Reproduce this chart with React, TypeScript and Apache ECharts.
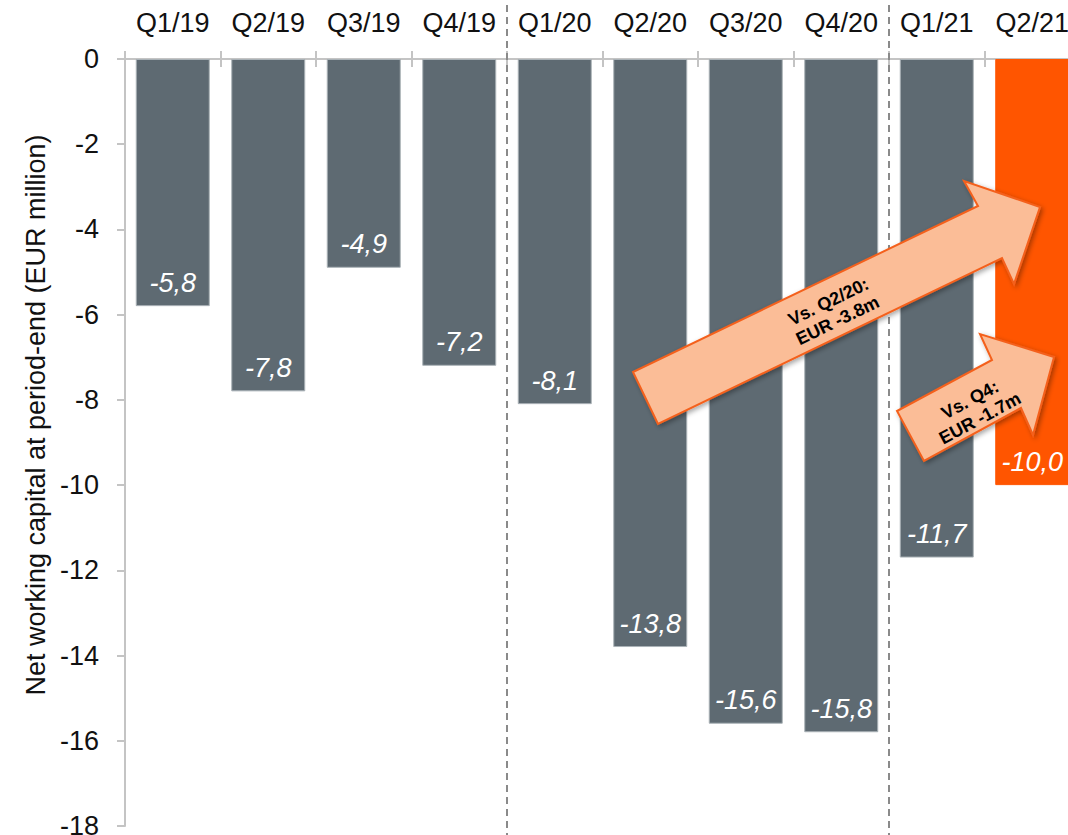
import React, { useEffect, useRef } from "react";
import * as echarts from "echarts";

const categories = ["Q1/19", "Q2/19", "Q3/19", "Q4/19", "Q1/20", "Q2/20", "Q3/20", "Q4/20", "Q1/21", "Q2/21"];
const values = [-5.8, -7.8, -4.9, -7.2, -8.1, -13.8, -15.6, -15.8, -11.7, -10.0];
const highlightIndex = 9;
const yMin = -18;
const yMax = 0;
const yInterval = 2;
const separatorsAfter = [3, 7];
const yAxisTitle = "Net working capital at period-end (EUR million)";
const arrowTexts = ["Vs. Q2/20:\nEUR -3.8m", "Vs. Q4:\nEUR -1.7m"];

const GREY = "#5e6a72";
const ORANGE = "#ff5500";
const ARROW_FILL = "#fbbd97";
const ARROW_STROKE = "#f4611c";
const FONT = "'Liberation Sans', Arial, sans-serif";

export default function App() {
  const ref = useRef<HTMLDivElement>(null);
  useEffect(() => {
    document.body.style.margin = "0";
    const chart = echarts.init(ref.current!, null, { renderer: "svg" });
    const axisLabelStyle = { color: "#111", fontSize: 27, fontFamily: FONT };
    chart.setOption({
      animation: false,
      grid: { left: 125, top: 59, width: 955, height: 767, outerBoundsMode: "none", containLabel: false },
      xAxis: [
        {
          type: "category",
          data: categories,
          position: "top",
          axisLine: { lineStyle: { color: "#c4c4c4", width: 2 } },
          axisTick: { show: true, length: 8, lineStyle: { color: "#c4c4c4", width: 2 } },
          axisLabel: { ...axisLabelStyle, margin: 23, interval: 0, hideOverlap: false },
        },
        {
          type: "category",
          data: categories,
          position: "top",
          axisLine: { show: false },
          axisTick: { show: true, inside: true, length: 8, lineStyle: { color: "#c4c4c4", width: 2 } },
          axisLabel: { show: false },
        },
      ],
      yAxis: {
        type: "value",
        min: yMin,
        max: yMax,
        interval: yInterval,
        axisLine: { show: true, lineStyle: { color: "#c4c4c4", width: 2 } },
        axisTick: { show: true, length: 8, lineStyle: { color: "#c4c4c4", width: 2 } },
        splitLine: { show: false },
        axisLabel: { ...axisLabelStyle, margin: 26 },
      },
      series: [
        {
          type: "bar",
          xAxisIndex: 0,
          barWidth: 74,
          data: values.map((v, i) => ({
            value: v,
            itemStyle: {
              color: i === highlightIndex ? ORANGE : GREY,
              borderColor: i === highlightIndex ? ORANGE : "#aab2b7",
              borderWidth: 1,
            },
          })),
          label: {
            show: true,
            position: "insideBottom",
            distance: 10,
            color: "#fff",
            fontSize: 27,
            fontStyle: "italic",
            fontFamily: FONT,
            formatter: (p: any) => p.value.toFixed(1).replace(".", ","),
          },
        },
      ],
    });

    const px = (i: number) => chart.convertToPixel({ xAxisIndex: 0 }, categories[i]) as number;
    const sepLines = separatorsAfter.map((i) => {
      const x = Math.round((px(i) + px(i + 1)) / 2);
      return {
        type: "line",
        shape: { x1: x, y1: 5, x2: x, y2: 835 },
        style: { stroke: "#8a8a8a", lineWidth: 2, lineDash: [7, 5] },
        z: 10,
      };
    });

    const arrowStyle = {
      fill: ARROW_FILL,
      stroke: ARROW_STROKE,
      lineWidth: 2,
      shadowBlur: 5,
      shadowColor: "rgba(0,0,0,0.35)",
      shadowOffsetX: 2,
      shadowOffsetY: 2,
    };
    const textStyle = (t: string) => ({
      text: t,
      fill: "#000",
      font: `bold 18px ${FONT}`,
      align: "center",
      verticalAlign: "middle",
      lineHeight: 21,
    });

    chart.setOption({
      graphic: [
        ...sepLines,
        {
          type: "text",
          x: 36,
          y: 415,
          rotation: Math.PI / 2,
          style: { text: yAxisTitle, fill: "#111", font: `27px ${FONT}`, align: "center", verticalAlign: "middle" },
        },
        {
          type: "polygon",
          z: 20,
          shape: {
            points: [
              [658, 424],
              [633, 372],
              [978, 206],
              [964, 181],
              [1040, 207],
              [1014, 284],
              [1002, 258],
            ],
          },
          style: arrowStyle,
        },
        {
          type: "text",
          z: 21,
          x: 833,
          y: 311,
          rotation: (25.8 * Math.PI) / 180,
          style: textStyle(arrowTexts[0]),
        },
        {
          type: "polygon",
          z: 20,
          shape: {
            points: [
              [924, 461],
              [897, 411],
              [992, 360],
              [980, 334],
              [1054, 357],
              [1033, 435],
              [1021, 408],
            ],
          },
          style: arrowStyle,
        },
        {
          type: "text",
          z: 21,
          x: 975,
          y: 409,
          rotation: (28.2 * Math.PI) / 180,
          style: textStyle(arrowTexts[1]),
        },
      ],
    });

    return () => chart.dispose();
  }, []);
  return <div ref={ref} style={{ width: 1068, height: 835 }} />;
}
